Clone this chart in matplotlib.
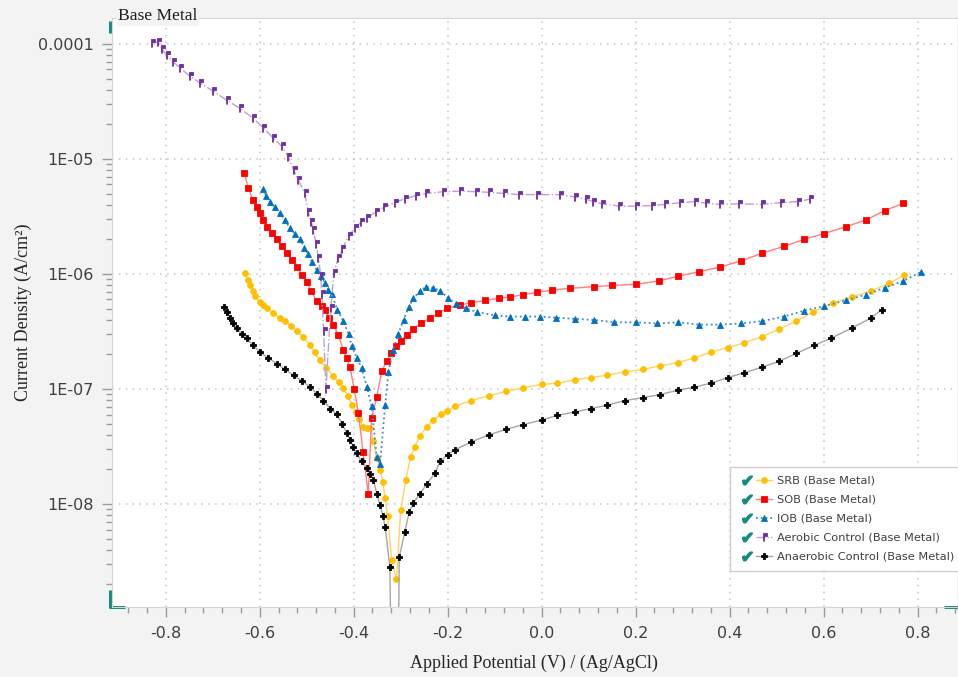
import numpy as np
import matplotlib
matplotlib.use('Agg')
import matplotlib.pyplot as plt
from matplotlib.lines import Line2D
from matplotlib.legend_handler import HandlerTuple
from matplotlib.ticker import MultipleLocator, LogLocator, NullFormatter

# ==========================================
# DATA
# potential in V vs Ag/AgCl, current as log10(A/cm2)
# ==========================================
srb_v = [-0.631, -0.626, -0.621, -0.615, -0.610, -0.600, -0.592, -0.585, -0.571, -0.557,
         -0.546, -0.533, -0.521, -0.507, -0.493, -0.483, -0.472, -0.458, -0.443, -0.432,
         -0.422, -0.413, -0.404, -0.395, -0.388, -0.380, -0.372, -0.365, -0.358, -0.351,
         -0.344, -0.338, -0.333, -0.328, -0.319, -0.309, -0.300, -0.289, -0.279, -0.270,
         -0.259, -0.245, -0.231, -0.215, -0.202, -0.185, -0.150, -0.113, -0.075, -0.040,
         0.000, 0.033, 0.070, 0.105, 0.140, 0.178, 0.215, 0.251, 0.290, 0.324,
         0.360, 0.396, 0.430, 0.469, 0.505, 0.542, 0.578, 0.620, 0.660, 0.700,
         0.740, 0.772]
srb_logi = [-5.99, -6.05, -6.10, -6.15, -6.19, -6.245, -6.27, -6.30, -6.34, -6.385,
            -6.41, -6.45, -6.495, -6.55, -6.62, -6.68, -6.75, -6.82, -6.89, -6.94,
            -6.99, -7.06, -7.14, -7.20, -7.26, -7.33, -7.335, -7.34, -7.45, -7.60,
            -7.70, -7.81, -7.95, -8.10, -8.49, -8.655, -8.05, -7.79, -7.59, -7.50,
            -7.41, -7.33, -7.27, -7.22, -7.19, -7.15, -7.10, -7.06, -7.02, -6.99,
            -6.96, -6.95, -6.92, -6.90, -6.88, -6.85, -6.83, -6.80, -6.77, -6.73,
            -6.68, -6.64, -6.60, -6.545, -6.48, -6.41, -6.33, -6.25, -6.20, -6.15,
            -6.08, -6.01]

sob_v = [-0.633, -0.624, -0.614, -0.606, -0.599, -0.592, -0.585, -0.574, -0.564, -0.553,
         -0.543, -0.532, -0.521, -0.510, -0.500, -0.490, -0.479, -0.468, -0.461, -0.452,
         -0.443, -0.433, -0.422, -0.415, -0.408, -0.399, -0.390, -0.380, -0.369, -0.362,
         -0.351, -0.340, -0.330, -0.320, -0.310, -0.300, -0.287, -0.273, -0.256, -0.238,
         -0.220, -0.202, -0.174, -0.150, -0.120, -0.090, -0.067, -0.040, -0.010, 0.022,
         0.060, 0.112, 0.150, 0.201, 0.250, 0.290, 0.335, 0.380, 0.425, 0.469,
         0.515, 0.558, 0.600, 0.647, 0.690, 0.730, 0.770]
sob_logi = [-5.12, -5.255, -5.36, -5.42, -5.47, -5.53, -5.59, -5.645, -5.70, -5.76,
            -5.815, -5.88, -5.94, -6.01, -6.07, -6.15, -6.235, -6.28, -6.31, -6.38,
            -6.44, -6.53, -6.66, -6.73, -6.81, -7.00, -7.21, -7.55, -7.91, -7.25,
            -7.07, -6.84, -6.76, -6.69, -6.63, -6.58, -6.53, -6.48, -6.43, -6.385,
            -6.34, -6.30, -6.27, -6.25, -6.23, -6.21, -6.20, -6.18, -6.16, -6.14,
            -6.125, -6.11, -6.10, -6.09, -6.06, -6.02, -5.98, -5.94, -5.885, -5.82,
            -5.76, -5.70, -5.65, -5.59, -5.53, -5.45, -5.385]

iob_v = [-0.594, -0.586, -0.578, -0.568, -0.557, -0.546, -0.536, -0.525, -0.514, -0.505,
         -0.497, -0.488, -0.479, -0.470, -0.461, -0.454, -0.447, -0.435, -0.422, -0.411,
         -0.404, -0.393, -0.383, -0.372, -0.362, -0.351, -0.344, -0.333, -0.326, -0.316,
         -0.305, -0.294, -0.283, -0.273, -0.259, -0.246, -0.232, -0.216, -0.199, -0.183,
         -0.160, -0.138, -0.100, -0.067, -0.035, -0.004, 0.030, 0.070, 0.112, 0.155,
         0.201, 0.245, 0.290, 0.335, 0.380, 0.425, 0.469, 0.515, 0.558, 0.600,
         0.647, 0.690, 0.730, 0.770, 0.808]
iob_logi = [-5.26, -5.32, -5.37, -5.42, -5.47, -5.535, -5.60, -5.65, -5.70, -5.77,
            -5.83, -5.90, -5.965, -6.02, -6.08, -6.14, -6.17, -6.31, -6.41, -6.52,
            -6.63, -6.73, -6.82, -6.98, -7.15, -7.59, -7.65, -7.14, -6.85, -6.66,
            -6.52, -6.40, -6.29, -6.21, -6.15, -6.11, -6.12, -6.145, -6.21, -6.26,
            -6.30, -6.33, -6.36, -6.37, -6.37, -6.37, -6.38, -6.39, -6.40, -6.42,
            -6.42, -6.43, -6.42, -6.44, -6.44, -6.43, -6.41, -6.37, -6.32, -6.28,
            -6.23, -6.18, -6.12, -6.06, -5.98]

aer_v = [-0.829, -0.816, -0.808, -0.798, -0.784, -0.770, -0.748, -0.727, -0.699, -0.670,
         -0.642, -0.614, -0.592, -0.571, -0.553, -0.539, -0.528, -0.518, -0.504, -0.497,
         -0.490, -0.486, -0.480, -0.475, -0.470, -0.468, -0.464, -0.459, -0.449, -0.442,
         -0.433, -0.424, -0.411, -0.397, -0.384, -0.371, -0.353, -0.335, -0.313, -0.290,
         -0.268, -0.246, -0.210, -0.174, -0.140, -0.112, -0.080, -0.049, -0.010, 0.040,
         0.070, 0.094, 0.110, 0.129, 0.165, 0.201, 0.235, 0.263, 0.295, 0.326,
         0.350, 0.379, 0.420, 0.469, 0.510, 0.545, 0.571]
aer_logi = [-3.99, -3.986, -4.04, -4.10, -4.154, -4.21, -4.28, -4.34, -4.41, -4.49,
            -4.56, -4.646, -4.73, -4.82, -4.89, -4.98, -5.10, -5.18, -5.30, -5.46,
            -5.55, -5.62, -5.74, -5.86, -6.02, -6.17, -6.50, -7.00, -6.30, -5.99,
            -5.86, -5.78, -5.67, -5.60, -5.55, -5.51, -5.46, -5.42, -5.38, -5.345,
            -5.32, -5.30, -5.285, -5.28, -5.285, -5.29, -5.30, -5.31, -5.31, -5.31,
            -5.33, -5.35, -5.37, -5.39, -5.41, -5.41, -5.405, -5.395, -5.38, -5.37,
            -5.385, -5.395, -5.39, -5.395, -5.38, -5.37, -5.35]

# the -0.312 V point of the anaerobic curve falls far below the plotted range
ana_v = [-0.676, -0.670, -0.663, -0.656, -0.649, -0.638, -0.628, -0.614, -0.599, -0.582,
         -0.564, -0.546, -0.528, -0.510, -0.493, -0.479, -0.465, -0.450, -0.436, -0.425,
         -0.415, -0.408, -0.401, -0.394, -0.383, -0.372, -0.365, -0.358, -0.351, -0.344,
         -0.338, -0.333, -0.323, -0.312, -0.303, -0.291, -0.282, -0.273, -0.259, -0.245,
         -0.227, -0.216, -0.200, -0.185, -0.150, -0.113, -0.075, -0.040, 0.000, 0.033,
         0.070, 0.105, 0.140, 0.178, 0.215, 0.251, 0.290, 0.324, 0.360, 0.396,
         0.430, 0.469, 0.505, 0.542, 0.580, 0.615, 0.660, 0.700, 0.724]
ana_logi = [-6.29, -6.33, -6.385, -6.43, -6.47, -6.52, -6.56, -6.62, -6.68, -6.73,
            -6.78, -6.83, -6.88, -6.93, -6.98, -7.04, -7.10, -7.17, -7.22, -7.30,
            -7.38, -7.44, -7.50, -7.56, -7.63, -7.69, -7.74, -7.79, -7.91, -8.01,
            -8.10, -8.20, -8.55, -12.0, -8.46, -8.24, -8.07, -7.99, -7.91, -7.83,
            -7.73, -7.63, -7.57, -7.53, -7.46, -7.40, -7.35, -7.31, -7.27, -7.23,
            -7.20, -7.17, -7.14, -7.10, -7.075, -7.05, -7.01, -6.985, -6.95, -6.90,
            -6.86, -6.81, -6.76, -6.69, -6.62, -6.56, -6.47, -6.385, -6.31]

labels = ['SRB (Base Metal)', 'SOB (Base Metal)', 'IOB (Base Metal)',
          'Aerobic Control (Base Metal)', 'Anaerobic Control (Base Metal)']

xticks = [-0.8, -0.6, -0.4, -0.2, 0.0, 0.2, 0.4, 0.6, 0.8]
xtick_labels = ['-0.8', '-0.6', '-0.4', '-0.2', '0.0', '0.2', '0.4', '0.6', '0.8']
yticks = [1e-8, 1e-7, 1e-6, 1e-5, 1e-4]
ytick_labels = ['1E-08', '1E-07', '1E-06', '1E-05', '0.0001']

# ==========================================
# STYLE
# ==========================================
plt.rcParams['font.family'] = ['DejaVu Sans']
plt.rcParams['axes.unicode_minus'] = False

teal = '#1b8a7f'
bg = '#f3f3f3'
serif = 'Liberation Serif'

# flag shaped marker for the aerobic curve
flag = [(-0.35, -1.0), (-0.35, 1.0), (0.9, 1.0), (0.9, 0.25), (0.05, 0.25), (0.05, -1.0)]

fig = plt.figure(figsize=(9.58, 6.77), dpi=100, facecolor=bg)
ax = fig.add_axes([0.1166, 0.1038, 0.8824, 0.8696])
ax.set_facecolor('white')

series = [
    (srb_v, srb_logi, dict(color='#ffd45c', ls='-', lw=1.0, marker='o', ms=4.2,
                           mfc='#ffc000', mec='#ffc000')),
    (sob_v, sob_logi, dict(color='#ff8080', ls='-', lw=1.0, marker='s', ms=4.3,
                           mfc='#ff0000', mec='#ff0000')),
    (iob_v, iob_logi, dict(color='#3d8ad0', ls=':', lw=1.3, marker='^', ms=4.6,
                           mfc='#0070c0', mec='#0070c0')),
    (aer_v, aer_logi, dict(color='#b9a2d6', ls='-.', lw=1.0, marker=flag, ms=5.5,
                           mfc='#7030a0', mec='#7030a0')),
    (ana_v, ana_logi, dict(color='#a6a6a6', ls='-', lw=1.0, marker='P', ms=5.0,
                           mfc='black', mec='black')),
]

lines = []
for v, logi, kw in series:
    ln, = ax.plot(v, 10.0 ** np.array(logi), mew=0.6, **kw)
    lines.append(ln)

ax.set_yscale('log')
ax.set_xlim(-0.915, 0.884)
ax.set_ylim(1.28e-9, 1.68e-4)

ax.set_xticks(xticks)
ax.set_xticklabels(xtick_labels)
ax.set_yticks(yticks)
ax.set_yticklabels(ytick_labels)
ax.xaxis.set_minor_locator(MultipleLocator(0.04))
ax.yaxis.set_minor_locator(LogLocator(base=10, subs=np.arange(2, 10)))
ax.yaxis.set_minor_formatter(NullFormatter())

ax.tick_params(which='both', direction='out', color='#9a9a9a', width=1.0)
ax.tick_params(which='major', length=7, labelsize=11.5, labelcolor='#404040', pad=6)
ax.tick_params(which='minor', length=4)
ax.tick_params(axis='x', which='major', pad=7)

ax.grid(True, which='major', color='#c4c4c4', linestyle=(0, (1, 3.5)), lw=1.1)
ax.set_axisbelow(True)

for side in ['top', 'left', 'bottom']:
    ax.spines[side].set_color('#d6d6d6')
ax.spines['right'].set_visible(False)

ax.set_xlabel('Applied Potential (V) / (Ag/AgCl)', family=serif, fontsize=13,
              color='#262626', labelpad=10)
ax.set_ylabel('Current Density (A/cm²)', family=serif, fontsize=13, color='#262626')
ax.yaxis.set_label_coords(-0.094, 0.5)

fig.text(0.1235, 0.976, 'Base Metal', family=serif, fontsize=12.6, color='#1f1f1f',
         va='center', ha='left', bbox=dict(fc=bg, ec='none', pad=1.0))

# teal corner brackets
kw = dict(transform=ax.transAxes, color=teal, lw=2.2, clip_on=False, solid_capstyle='butt')
ax.plot([-0.002, -0.002], [0.975, 0.995], **kw)
ax.plot([-0.002, -0.002, 0.016], [0.028, 0.0, 0.0], **kw)
ax.plot([0.985, 1.01], [0.0, 0.0], **kw)

# legend with check marks
handles = []
for ln in lines:
    chk = Line2D([], [], ls='none', marker='$\u2714$', color=teal, markersize=7)
    handles.append((chk, ln))
leg = ax.legend(handles, labels, handler_map={tuple: HandlerTuple(ndivide=2, pad=0.1)},
                loc='upper left', bbox_to_anchor=(730 / 958, 1 - 467 / 677),
                bbox_transform=fig.transFigure, borderaxespad=0, fancybox=False,
                frameon=True, edgecolor='#cfcfcf', facecolor='white', framealpha=1,
                fontsize=8.2, handlelength=2.9, handletextpad=0.5, labelspacing=0.8,
                borderpad=0.75, numpoints=1)
leg.get_frame().set_linewidth(1.0)
for t in leg.get_texts():
    t.set_color('#404040')

fig.savefig('out.png', dpi=100, facecolor=bg)
